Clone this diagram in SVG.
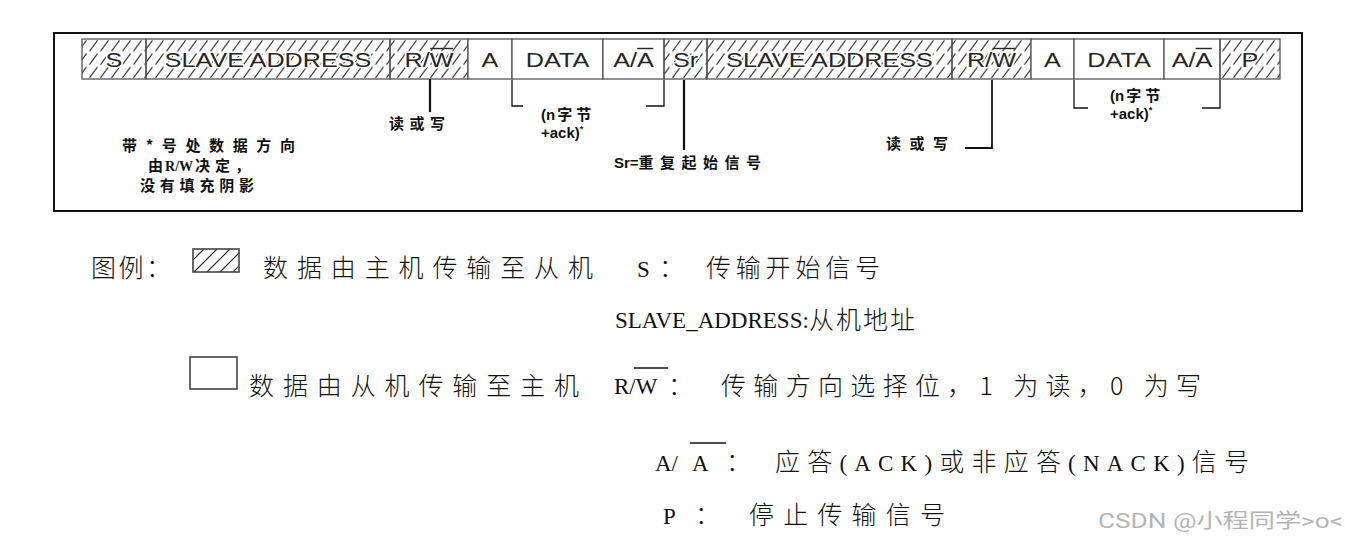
<svg xmlns="http://www.w3.org/2000/svg" width="1345" height="543" viewBox="0 0 1345 543">
<style>
.cell{stroke:#555;stroke-width:1.3}
.h{fill:url(#hatch)}
.w{fill:#fff}
.lbl{font-family:'Liberation Sans',Arial,sans-serif;font-size:21px;fill:#262626;text-anchor:middle}
.halo{stroke:#fff;stroke-width:3;paint-order:stroke;stroke-linejoin:round}
.ov{stroke:#262626;stroke-width:1.4}
.note{font-family:'Noto Sans CJK SC',sans-serif;font-weight:700;font-size:15px;fill:#111}
.nlat{font-family:'Liberation Sans',Arial,sans-serif;font-weight:700;font-size:15px;fill:#111}
.lg{font-family:'Liberation Serif','Noto Sans CJK SC',serif;font-size:23px;fill:#111}
.lgc{font-family:'Noto Sans CJK SC',sans-serif;font-size:25px;font-weight:300;fill:#111}
.conn{stroke:#111;fill:none}
.wm{font-family:'Roboto','Noto Sans CJK SC',sans-serif;font-size:20px;fill:#b4b4b4}
</style>
<defs>
<pattern id="hatch" patternUnits="userSpaceOnUse" x="0" y="39" width="11" height="13.33">
<path d="M1.5,12.3 Q5,7.5 5.5,6.8 T9.5,1.3" stroke="#2a2a2a" stroke-width="1.1" fill="none"/>
</pattern>
<clipPath id="lgclip"><rect x="193" y="249" width="46" height="23"/></clipPath>
</defs>
<rect width="1345" height="543" fill="#fff"/>
<rect id="frame" x="54" y="33" width="1248" height="178" fill="none" stroke="#111" stroke-width="2"/>

<g id="cell-s"><rect class="cell h" x="82" y="39" width="64" height="40"/><text class="lbl halo" transform="translate(114,66.5) scale(1.2,1)">S</text></g>
<g id="cell-addr1"><rect class="cell h" x="146" y="39" width="244" height="40"/><text class="lbl halo" transform="translate(268,66.5) scale(1.2,1)">SLAVE ADDRESS</text></g>
<g id="cell-rw1"><rect class="cell h" x="390" y="39" width="78" height="40"/><g transform="translate(429,66.5) scale(1.2,1)"><text class="lbl halo">R/W</text><line class="ov" x1="1" y1="-18" x2="20" y2="-18"/></g></g>
<g id="cell-a1"><rect class="cell w" x="468" y="39" width="44" height="40"/><text class="lbl" transform="translate(490,66.5) scale(1.2,1)">A</text></g>
<g id="cell-data1"><rect class="cell w" x="512" y="39" width="91" height="40"/><text class="lbl" transform="translate(557.5,66.5) scale(1.2,1)">DATA</text></g>
<g id="cell-aa1"><rect class="cell w" x="603" y="39" width="61" height="40"/><g transform="translate(633.5,66.5) scale(1.2,1)"><text class="lbl">A/A</text><line class="ov" x1="3" y1="-18" x2="16.5" y2="-18"/></g></g>
<g id="cell-sr"><rect class="cell h" x="664" y="39" width="43" height="40"/><text class="lbl halo" transform="translate(685.5,66.5) scale(1.2,1)">Sr</text></g>
<g id="cell-addr2"><rect class="cell h" x="707" y="39" width="245" height="40"/><text class="lbl halo" transform="translate(829.5,66.5) scale(1.2,1)">SLAVE ADDRESS</text></g>
<g id="cell-rw2"><rect class="cell h" x="952" y="39" width="79" height="40"/><g transform="translate(991.5,66.5) scale(1.2,1)"><text class="lbl halo">R/W</text><line class="ov" x1="1" y1="-18" x2="20" y2="-18"/></g></g>
<g id="cell-a2"><rect class="cell w" x="1031" y="39" width="43" height="40"/><text class="lbl" transform="translate(1052.5,66.5) scale(1.2,1)">A</text></g>
<g id="cell-data2"><rect class="cell w" x="1074" y="39" width="90" height="40"/><text class="lbl" transform="translate(1119,66.5) scale(1.2,1)">DATA</text></g>
<g id="cell-aa2"><rect class="cell w" x="1164" y="39" width="56" height="40"/><g transform="translate(1192,66.5) scale(1.2,1)"><text class="lbl">A/A</text><line class="ov" x1="3" y1="-18" x2="16.5" y2="-18"/></g></g>
<g id="cell-p"><rect class="cell h" x="1220" y="39" width="60" height="40"/><text class="lbl halo" transform="translate(1250,66.5) scale(1.2,1)">P</text></g>

<g id="connectors">
<path class="conn" stroke-width="2.2" d="M430,79 V112"/>
<path class="conn" stroke-width="1.3" d="M512,80 V106 H523"/>
<path class="conn" stroke-width="1.3" d="M646,106 H664 V80"/>
<path class="conn" stroke-width="2.2" d="M684,80 V150"/>
<path class="conn" stroke-width="1.8" d="M992,80 V148 H965"/>
<path class="conn" stroke-width="1.3" d="M1074,80 V108 H1088"/>
<path class="conn" stroke-width="1.3" d="M1202,108 H1220 V80"/>
</g>

<g id="notes">
<text class="note" font-size="16" x="389" y="129" textLength="56" lengthAdjust="spacing">读或写</text>
<text x="541" y="120"><tspan class="nlat">(n</tspan><tspan class="note" dx="2" letter-spacing="4">字节</tspan></text>
<text class="nlat" x="541" y="138">+ack)<tspan font-size="9" dy="-6">*</tspan></text>
<text x="614" y="168"><tspan class="nlat">Sr=</tspan><tspan class="note" letter-spacing="6.5">重复起始信号</tspan></text>
<text class="note" font-size="16" x="886" y="149" textLength="62" lengthAdjust="spacing">读或写</text>
<text x="1110" y="101"><tspan class="nlat">(n</tspan><tspan class="note" dx="2" letter-spacing="4">字节</tspan></text>
<text class="nlat" x="1110" y="119">+ack)<tspan font-size="9" dy="-6">*</tspan></text>
<text class="note" font-size="13.5" x="122" y="151" textLength="173" lengthAdjust="spacing">带*号处数据方向</text>
<text x="148" y="171"><tspan class="note" font-size="13.5" letter-spacing="2">由</tspan><tspan font-family="'Liberation Serif',serif" font-weight="700" font-size="14" fill="#111">R/W</tspan><tspan class="note" font-size="13.5" letter-spacing="5" dx="2">决定，</tspan></text>
<text class="note" font-size="13.5" x="140" y="191" textLength="114" lengthAdjust="spacing">没有填充阴影</text>
</g>

<g id="legend">
<text class="lgc" x="91" y="277" textLength="80" lengthAdjust="spacing">图例：</text>
<g id="legend-hatch">
<g clip-path="url(#lgclip)" stroke="#333" stroke-width="1.2">
<line x1="181" y1="272" x2="204" y2="249"/>
<line x1="194" y1="272" x2="217" y2="249"/>
<line x1="207" y1="272" x2="230" y2="249"/>
<line x1="220" y1="272" x2="243" y2="249"/>
<line x1="233" y1="272" x2="256" y2="249"/>
</g>
<rect x="193" y="249" width="46" height="23" fill="none" stroke="#444" stroke-width="1.6"/>
</g>
<text class="lgc" x="263" y="277" textLength="330" lengthAdjust="spacing">数据由主机传输至从机</text>
<rect id="legend-white" x="190" y="357" width="47" height="32" fill="none" stroke="#444" stroke-width="1.6"/>
<text class="lgc" x="249" y="395" textLength="330" lengthAdjust="spacing">数据由从机传输至主机</text>

<text class="lg" x="637" y="277">S</text>
<text class="lgc" x="659" y="277">：</text>
<text class="lgc" x="706" y="277" textLength="174" lengthAdjust="spacing">传输开始信号</text>

<text class="lg" font-size="22" x="615" y="328">SLAVE_ADDRESS:</text>
<text class="lgc" x="809" y="329" textLength="106" lengthAdjust="spacing">从机地址</text>

<text class="lg" font-size="25" x="614" y="394">R/W</text>
<line x1="634" y1="368" x2="668" y2="368" stroke="#111" stroke-width="1.3"/>
<text class="lgc" x="668" y="395">：</text>
<text class="lgc" x="721" y="395" textLength="480" lengthAdjust="spacing">传输方向选择位，1 为读，0 为写</text>

<text class="lg" font-size="25" x="655" y="471">A/</text>
<text class="lg" font-size="25" x="692" y="471">A</text>
<line x1="690" y1="443" x2="726" y2="443" stroke="#111" stroke-width="1.3"/>
<text class="lgc" x="726" y="471">：</text>
<text x="775" y="471" letter-spacing="7.2"><tspan class="lgc">应答</tspan><tspan class="lg" font-size="25">(ACK)</tspan><tspan class="lgc">或非应答</tspan><tspan class="lg" font-size="25">(NACK)</tspan><tspan class="lgc">信号</tspan></text>

<text class="lg" font-size="24" x="663" y="524">P</text>
<text class="lgc" x="695" y="524">：</text>
<text class="lgc" x="749" y="524" textLength="196" lengthAdjust="spacing">停止传输信号</text>
</g>

<text id="watermark" class="wm" x="1098" y="528" textLength="245" lengthAdjust="spacingAndGlyphs">CSDN @小程同学&gt;o&lt;</text>
</svg>
